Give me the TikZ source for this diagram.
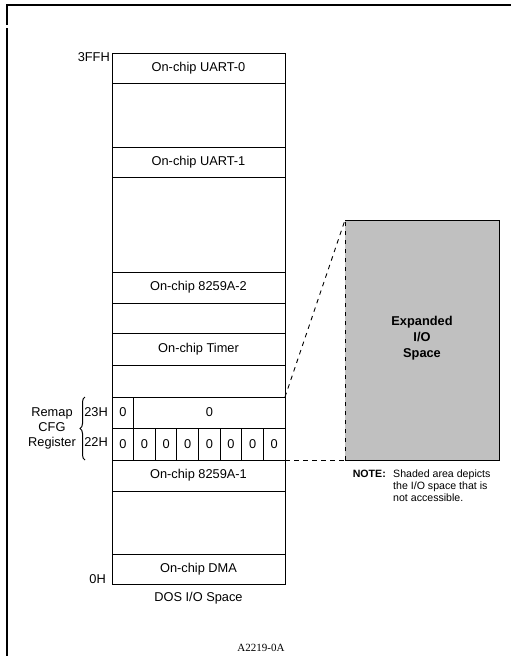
\documentclass[tikz,border=0pt]{standalone}
\usepackage{fontspec}
\setmainfont{Liberation Sans}
\newfontfamily\figfont{Liberation Serif}
\usetikzlibrary{positioning,decorations.pathreplacing}

\definecolor{ioshade}{HTML}{C0C0C0}
\newcommand{\mainsize}{\fontsize{12.8}{15}\selectfont}
\newcommand{\notesize}{\fontsize{10.6}{12}\selectfont}

\tikzstyle{every node}=[font=\mainsize]
\tikzstyle{region}=[draw=black,line width=1pt,minimum width=173pt,inner sep=0pt,outer sep=0pt]
\tikzstyle{cell}=[draw=black,line width=1pt,minimum width=21.625pt,inner sep=0pt,outer sep=0pt,anchor=north west]
\tikzstyle{addr}=[inner sep=0pt]
\tikzstyle{link}=[line width=0.9pt,dash pattern=on 4.5pt off 4.5pt]

\begin{document}
\begin{tikzpicture}[x=1pt,y=-1pt]
        \useasboundingbox (0,0) rectangle (511,656);
        %% page frame
        \draw[line width=2pt] (7,25) -- (7,5) -- (512,5);
        \draw[line width=2pt] (7,28) -- (7,657);

        %% The DOS I/O space column
        \node[region,anchor=north west,minimum height=30pt] (uart0) at (112,53) {On-chip UART-0};
        \node[region,minimum height=64pt,below=0pt of uart0] (gapa) {};
        \node[region,minimum height=30pt,below=0pt of gapa] (uart1) {On-chip UART-1};
        \node[region,minimum height=95pt,below=0pt of uart1] (gapb) {};
        \node[region,minimum height=31pt,below=0pt of gapb] (pica) {On-chip 8259A-2};
        \node[region,minimum height=30pt,below=0pt of pica] (gapc) {};
        \node[region,minimum height=32pt,below=0pt of gapc] (timer) {On-chip Timer};
        \node[region,minimum height=32pt,below=0pt of timer] (gapd) {};

        %%% remap register bytes
        \node[cell,minimum height=31pt] (hib) at (gapd.south west) {0};
        \node[cell,minimum height=31pt,minimum width=151.375pt] (hirest) at (hib.north east) {0};
        \foreach \b in {0,...,7}
        \node[cell,minimum height=32pt] (lo\b) at (112+21.625*\b,428) {0};

        \node[region,anchor=north west,minimum height=31pt] (picb) at (lo0.south west) {On-chip 8259A-1};
        \node[region,minimum height=63pt,below=0pt of picb] (gape) {};
        \node[region,minimum height=30pt,below=0pt of gape] (dma) {On-chip DMA};
        \node[addr,below=8pt of dma] (dos) {DOS I/O Space};

        %%% addresses
        \node[addr,anchor=north east] (top) at ([xshift=-2pt,yshift=1pt]uart0.north west) {3FFH};
        \node[addr,anchor=south east] (bottom) at ([xshift=-6pt]dma.south west) {0H};
        \node[addr,anchor=east] (hiaddr) at ([xshift=-4pt]hib.west) {23H};
        \node[addr,anchor=east] (loaddr) at ([xshift=-4pt,yshift=2pt]lo0.west) {22H};
        \draw[decorate,decoration={brace,amplitude=5pt},line width=1pt]
                ([xshift=-27pt]lo0.south west) -- ([xshift=-27pt]hib.north west);
        \node[align=center] (remap) at (52,428) {Remap\\CFG\\Register};

        %% Expanded space and its leads
        \node[fill=ioshade,minimum width=154pt,minimum height=240pt,inner sep=0pt,outer sep=0pt,anchor=north west] (exp) at (345,220) {};
        \draw[line width=1pt] (exp.north west) -- (exp.north east) -- (exp.south east) -- (exp.south west);
        \draw[link] (exp.south west) -- (exp.north west);
        \node[align=center,font=\bfseries\fontsize{12.8}{16}\selectfont] (exptext) at ([yshift=2pt]exp.center) {Expanded\\I/O\\Space};
        \draw[link] (hirest.north east) -- (exp.north west);
        \draw[link] (lo7.south east) -- (exp.south west);

        \node[anchor=north west,inner sep=0pt,align=left,font=\notesize] (note) at (393,470) {Shaded area depicts\\the I/O space that is\\not accessible.};
        \node[anchor=north east,inner sep=0pt,font=\bfseries\notesize] (notehd) at ([xshift=-7pt]note.north west) {NOTE:};

        \node[font=\figfont\fontsize{11}{13}\selectfont] (figid) at (261,648) {A2219-0A};
\end{tikzpicture}
\end{document}
